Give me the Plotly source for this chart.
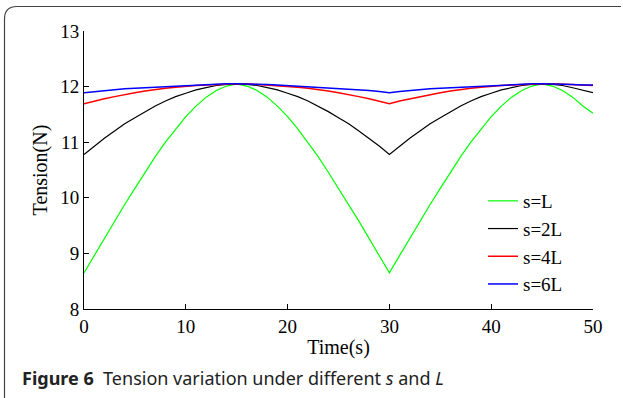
import plotly.graph_objects as go

# ---- data ----
time_s = list(range(0, 51))

tension_s1 = [8.65, 8.96, 9.27, 9.58, 9.88, 10.17, 10.46, 10.74, 11.00, 11.24, 11.46, 11.65, 11.81, 11.93, 12.01, 12.05,
              12.01, 11.93, 11.81, 11.65, 11.46, 11.24, 11.00, 10.74, 10.46, 10.17, 9.88, 9.58, 9.27, 8.96, 8.65,
              8.96, 9.27, 9.58, 9.88, 10.17, 10.46, 10.74, 11.00, 11.24, 11.46, 11.65, 11.81, 11.93, 12.01, 12.05,
              12.01, 11.93, 11.81, 11.65, 11.52]
tension_s2 = [10.78, 10.93, 11.07, 11.20, 11.33, 11.44, 11.55, 11.65, 11.74, 11.82, 11.88, 11.94, 11.98, 12.02, 12.04, 12.05,
              12.04, 12.02, 11.98, 11.94, 11.88, 11.82, 11.74, 11.65, 11.55, 11.44, 11.33, 11.20, 11.07, 10.93, 10.78,
              10.93, 11.07, 11.20, 11.33, 11.44, 11.55, 11.65, 11.74, 11.82, 11.88, 11.94, 11.98, 12.02, 12.04, 12.05,
              12.04, 12.02, 11.98, 11.94, 11.89]
tension_s4 = [11.69, 11.74, 11.78, 11.82, 11.86, 11.89, 11.92, 11.95, 11.97, 11.99, 12.01, 12.02, 12.03, 12.04, 12.05, 12.05,
              12.05, 12.04, 12.03, 12.02, 12.01, 11.99, 11.97, 11.95, 11.92, 11.89, 11.86, 11.82, 11.78, 11.74, 11.69,
              11.74, 11.78, 11.82, 11.86, 11.89, 11.92, 11.95, 11.97, 11.99, 12.01, 12.02, 12.03, 12.04, 12.05, 12.05,
              12.05, 12.04, 12.03, 12.02, 12.02]
tension_s6 = [11.89, 11.91, 11.93, 11.95, 11.96, 11.97, 11.98, 11.99, 12.00, 12.01, 12.02, 12.03, 12.04, 12.04, 12.05, 12.05,
              12.05, 12.04, 12.04, 12.03, 12.02, 12.01, 12.00, 11.99, 11.98, 11.97, 11.96, 11.95, 11.93, 11.91, 11.89,
              11.91, 11.93, 11.95, 11.96, 11.97, 11.98, 11.99, 12.00, 12.01, 12.02, 12.03, 12.04, 12.04, 12.05, 12.05,
              12.05, 12.04, 12.04, 12.03, 12.03]

series_names = ["s=L", "s=2L", "s=4L", "s=6L"]
series_values = [tension_s1, tension_s2, tension_s4, tension_s6]
series_colors = ["#00ff00", "#000000", "#ff0000", "#0000ff"]
series_widths = [1.2, 1.2, 1.5, 1.5]

x_ticks = [0, 10, 20, 30, 40, 50]
y_ticks = [8, 9, 10, 11, 12, 13]

W, H = 623, 398
ML, MR, MT, MB = 84, 30, 31, 89
PW, PH = W - ML - MR, H - MT - MB

fig = go.Figure()
for name, vals, col, w in zip(series_names, series_values, series_colors, series_widths):
    fig.add_trace(go.Scatter(x=time_s, y=vals, mode="lines", name=name,
                             line=dict(color=col, width=w)))

serif = "Liberation Serif"
txt = "#000"


def px(x):
    return (x - ML) / PW


def py(y):
    return (H - MB - y) / PH


# rounded frame around the figure (left and top edges visible)
frame_path = (f"M {px(4.5)} {py(402)} L {px(4.5)} {py(19)} "
              f"Q {px(4.5)} {py(6.5)} {px(17)} {py(6.5)} L {px(621)} {py(6.5)}")

fig.update_layout(
    width=W, height=H,
    margin=dict(l=ML, r=MR, t=MT, b=MB, autoexpand=False),
    paper_bgcolor="white", plot_bgcolor="white",
    font=dict(family=serif, size=19, color=txt),
    showlegend=True,
    legend=dict(x=px(483), y=py(182), xanchor="left", yanchor="top",
                bgcolor="rgba(0,0,0,0)", font=dict(family=serif, size=19, color=txt),
                itemwidth=30),
    xaxis=dict(range=[0, 50], tickvals=x_ticks, ticks="inside", ticklen=5, tickcolor="black",
               showline=True, linecolor="black", linewidth=1, showgrid=False, zeroline=False,
               tickfont=dict(family=serif, size=19, color=txt),
               title=dict(text="Time(s)", standoff=4, font=dict(family=serif, size=20, color=txt))),
    yaxis=dict(range=[8, 13], tickvals=y_ticks, ticks="inside", ticklen=5, tickcolor="black",
               showline=True, linecolor="black", linewidth=1, showgrid=False, zeroline=False,
               tickfont=dict(family=serif, size=19, color=txt),
               title=dict(text="Tension(N)", standoff=7, font=dict(family=serif, size=20, color=txt))),
    shapes=[dict(type="path", xref="paper", yref="paper", path=frame_path,
                 line=dict(color="#444", width=1.2), layer="above")],
    annotations=[dict(xref="paper", yref="paper", x=px(20), y=py(378), xanchor="left", yanchor="middle",
                      showarrow=False,
                      text="<b>Figure 6</b>  Tension variation under different <i>s</i> and <i>L</i>",
                      font=dict(family="Noto Sans", size=18, color="#222"))],
)

fig.write_html("out.html")
